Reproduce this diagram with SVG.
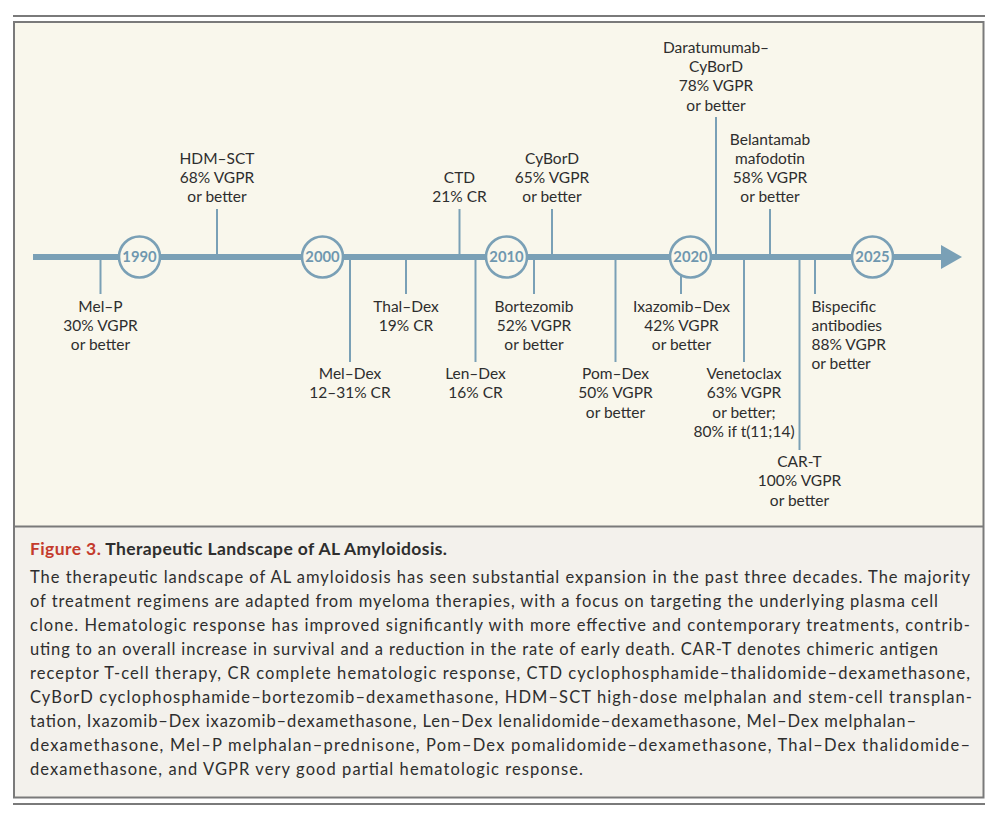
<svg xmlns="http://www.w3.org/2000/svg" width="998" height="822" viewBox="0 0 998 822">
<style>
.lbl{font-family:Lato,"Liberation Sans",sans-serif;font-size:15.5px;fill:#2e2e2e;text-anchor:middle}
.lbl-l{font-family:Lato,"Liberation Sans",sans-serif;font-size:15.5px;fill:#2e2e2e;text-anchor:start}
.yr{font-family:Lato,"Liberation Sans",sans-serif;font-size:14.8px;font-weight:bold;fill:#6f97af;text-anchor:middle}
.yc{fill:#f9f7ec;stroke:#7aa0b6;stroke-width:2.6}
.tick{stroke:#7aa0b6;stroke-width:2;fill:none}
.cap{font-family:Lato,"Liberation Sans",sans-serif;font-size:16.5px;fill:#2e2e2e}
.ttl{font-family:Lato,"Liberation Sans",sans-serif;font-size:17.5px;font-weight:bold;fill:#2e2e2e}
</style>
<rect x="0" y="0" width="998" height="822" fill="#ffffff"/>
<line x1="13" y1="16" x2="985" y2="16" stroke="#7a7a7a" stroke-width="2"/>
<line x1="13" y1="804" x2="985" y2="804" stroke="#7a7a7a" stroke-width="2"/>
<rect x="14" y="22" width="969.5" height="504.5" fill="#f9f7ec"/>
<rect x="14" y="526.5" width="969.5" height="271" fill="#f3f1ec"/>
<rect x="14" y="22" width="969.5" height="775.5" fill="none" stroke="#7a7a7a" stroke-width="2"/>
<line x1="14" y1="526.5" x2="983.5" y2="526.5" stroke="#7a7a7a" stroke-width="2"/>

<g id="connectors">
<line class="tick" x1="217" y1="209" x2="217" y2="257"/>
<line class="tick" x1="459.5" y1="209" x2="459.5" y2="257"/>
<line class="tick" x1="552" y1="209" x2="552" y2="257"/>
<line class="tick" x1="716" y1="117" x2="716" y2="257"/>
<line class="tick" x1="770" y1="209" x2="770" y2="257"/>
<line class="tick" x1="100.5" y1="257" x2="100.5" y2="294"/>
<line class="tick" x1="350" y1="257" x2="350" y2="362"/>
<line class="tick" x1="406" y1="257" x2="406" y2="294"/>
<line class="tick" x1="475.5" y1="257" x2="475.5" y2="362"/>
<line class="tick" x1="534" y1="257" x2="534" y2="294"/>
<line class="tick" x1="615.5" y1="257" x2="615.5" y2="362"/>
<line class="tick" x1="681" y1="270" x2="681" y2="294"/>
<line class="tick" x1="744" y1="257" x2="744" y2="362"/>
<line class="tick" x1="799.5" y1="257" x2="799.5" y2="450"/>
<line class="tick" x1="815" y1="257" x2="815" y2="294"/>
<line x1="33" y1="257" x2="944" y2="257" stroke="#7aa0b6" stroke-width="6"/>
<polygon points="941,245 962,257 941,269" fill="#7aa0b6"/>
</g>

<g id="y1990"><circle class="yc" cx="139.5" cy="257" r="20.5"/><text class="yr" x="139.5" y="262.3">1990</text></g>
<g id="y2000"><circle class="yc" cx="322.5" cy="257" r="20.5"/><text class="yr" x="322.5" y="262.3">2000</text></g>
<g id="y2010"><circle class="yc" cx="506.5" cy="257" r="20.5"/><text class="yr" x="506.5" y="262.3">2010</text></g>
<g id="y2020"><circle class="yc" cx="690.5" cy="257" r="20.5"/><text class="yr" x="690.5" y="262.3">2020</text></g>
<g id="y2025"><circle class="yc" cx="872.5" cy="257" r="20.5"/><text class="yr" x="872.5" y="262.3">2025</text></g>

<g id="hdm-sct"><text class="lbl" x="217" y="164">HDM–SCT</text><text class="lbl" x="217" y="183">68% VGPR</text><text class="lbl" x="217" y="202">or better</text></g>
<g id="ctd"><text class="lbl" x="459.5" y="183">CTD</text><text class="lbl" x="459.5" y="202">21% CR</text></g>
<g id="cybord"><text class="lbl" x="552" y="164">CyBorD</text><text class="lbl" x="552" y="183">65% VGPR</text><text class="lbl" x="552" y="202">or better</text></g>
<g id="dara"><text class="lbl" x="716" y="53">Daratumumab–</text><text class="lbl" x="716" y="72">CyBorD</text><text class="lbl" x="716" y="91">78% VGPR</text><text class="lbl" x="716" y="110.5">or better</text></g>
<g id="belantamab"><text class="lbl" x="770" y="144.5">Belantamab</text><text class="lbl" x="770" y="164">mafodotin</text><text class="lbl" x="770" y="183">58% VGPR</text><text class="lbl" x="770" y="202">or better</text></g>

<g id="mel-p"><text class="lbl" x="100.5" y="311.5">Mel–P</text><text class="lbl" x="100.5" y="330.5">30% VGPR</text><text class="lbl" x="100.5" y="349.5">or better</text></g>
<g id="thal-dex"><text class="lbl" x="406" y="311.5">Thal–Dex</text><text class="lbl" x="406" y="330.5">19% CR</text></g>
<g id="mel-dex"><text class="lbl" x="350" y="379">Mel–Dex</text><text class="lbl" x="350" y="398">12–31% CR</text></g>
<g id="len-dex"><text class="lbl" x="475.5" y="379">Len–Dex</text><text class="lbl" x="475.5" y="398">16% CR</text></g>
<g id="bortezomib"><text class="lbl" x="534" y="311.5">Bortezomib</text><text class="lbl" x="534" y="330.5">52% VGPR</text><text class="lbl" x="534" y="349.5">or better</text></g>
<g id="pom-dex"><text class="lbl" x="615.5" y="379">Pom–Dex</text><text class="lbl" x="615.5" y="398">50% VGPR</text><text class="lbl" x="615.5" y="417.5">or better</text></g>
<g id="ixazomib-dex"><text class="lbl" x="681.5" y="311.5">Ixazomib–Dex</text><text class="lbl" x="681.5" y="330.5">42% VGPR</text><text class="lbl" x="681.5" y="349.5">or better</text></g>
<g id="venetoclax"><text class="lbl" x="744" y="379">Venetoclax</text><text class="lbl" x="744" y="398">63% VGPR</text><text class="lbl" x="744" y="417.5">or better;</text><text class="lbl" x="744" y="436.5">80% if t(11;14)</text></g>
<g id="car-t"><text class="lbl" x="799.5" y="467">CAR-T</text><text class="lbl" x="799.5" y="486">100% VGPR</text><text class="lbl" x="799.5" y="505.5">or better</text></g>
<g id="bispecific"><text class="lbl-l" x="811.5" y="311.5">Bispecific</text><text class="lbl-l" x="811.5" y="330.5">antibodies</text><text class="lbl-l" x="811.5" y="349.5">88% VGPR</text><text class="lbl-l" x="811.5" y="368.5">or better</text></g>

<g id="caption">
<text class="ttl" x="30" y="555" textLength="417" lengthAdjust="spacing"><tspan fill="#c43b2c">Figure 3.</tspan> Therapeutic Landscape of AL Amyloidosis.</text>
<text class="cap" x="30" y="582.5" textLength="940" lengthAdjust="spacing">The therapeutic landscape of AL amyloidosis has seen substantial expansion in the past three decades. The majority</text>
<text class="cap" x="30" y="606.5" textLength="908" lengthAdjust="spacing">of treatment regimens are adapted from myeloma therapies, with a focus on targeting the underlying plasma cell</text>
<text class="cap" x="30" y="630.5" textLength="940" lengthAdjust="spacing">clone. Hematologic response has improved significantly with more effective and contemporary treatments, contrib-</text>
<text class="cap" x="30" y="654.5" textLength="908" lengthAdjust="spacing">uting to an overall increase in survival and a reduction in the rate of early death. CAR-T denotes chimeric antigen</text>
<text class="cap" x="30" y="678.5" textLength="940" lengthAdjust="spacing">receptor T-cell therapy, CR complete hematologic response, CTD cyclophosphamide–thalidomide–dexamethasone,</text>
<text class="cap" x="30" y="702.5" textLength="942" lengthAdjust="spacing">CyBorD cyclophosphamide–bortezomib–dexamethasone, HDM–SCT high-dose melphalan and stem-cell transplan-</text>
<text class="cap" x="30" y="726.5" textLength="886" lengthAdjust="spacing">tation, Ixazomib–Dex ixazomib–dexamethasone, Len–Dex lenalidomide–dexamethasone, Mel–Dex melphalan–</text>
<text class="cap" x="30" y="750.5" textLength="940" lengthAdjust="spacing">dexamethasone, Mel–P melphalan–prednisone, Pom–Dex pomalidomide–dexamethasone, Thal–Dex thalidomide–</text>
<text class="cap" x="30" y="774.5" textLength="553" lengthAdjust="spacing">dexamethasone, and VGPR very good partial hematologic response.</text>
</g>
</svg>
